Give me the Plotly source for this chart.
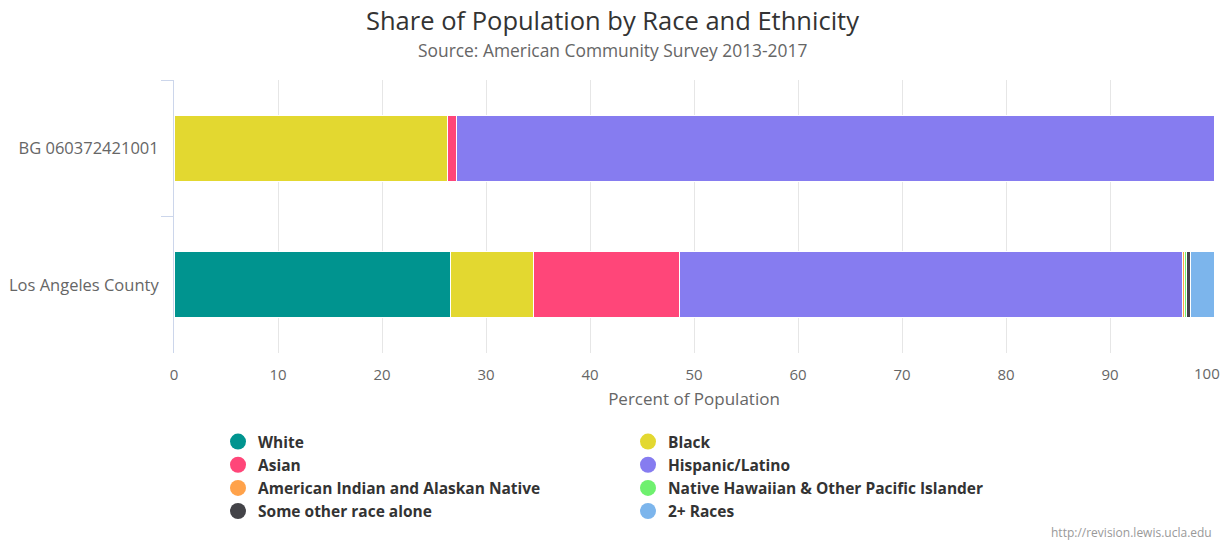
import plotly.graph_objects as go

categories = ["BG 060372421001", "Los Angeles County"]
series_names = ["White", "Black", "Asian", "Hispanic/Latino",
                "American Indian and Alaskan Native",
                "Native Hawaiian & Other Pacific Islander",
                "Some other race alone", "2+ Races"]
values = {
    "White": [0.0, 26.6],
    "Black": [26.3, 8.0],
    "Asian": [0.9, 14.0],
    "Hispanic/Latino": [72.8, 48.4],
    "American Indian and Alaskan Native": [0.0, 0.2],
    "Native Hawaiian & Other Pacific Islander": [0.0, 0.2],
    "Some other race alone": [0.0, 0.3],
    "2+ Races": [0.0, 2.3],
}
colors = ["#00948f", "#e3d830", "#ff4679", "#867cf0",
          "#ffa24a", "#6ef06e", "#434348", "#7cb5ec"]
x_ticks = list(range(0, 101, 10))
title_text = "Share of Population by Race and Ethnicity"
subtitle_text = "Source: American Community Survey 2013-2017"
credits_text = "http://revision.lewis.ucla.edu"

FONT = "Open Sans"
W, H = 1224, 541
L, R, T, B = 174, 10, 80, 188
PH = H - T - B
PW = W - L - R


def py(pixel_y):
    return (H - B - pixel_y) / PH


def px(pixel_x):
    return (pixel_x - L) / PW


fig = go.Figure()
for name, col in zip(series_names, colors):
    fig.add_trace(go.Bar(
        y=categories, x=values[name], orientation="h", name=name,
        marker=dict(color=col, line=dict(color="white", width=1)),
        showlegend=False, legendgroup=name, hoverinfo="skip"))
# legend entries (circle symbols)
for name, col in zip(series_names, colors):
    fig.add_trace(go.Scatter(
        x=[None], y=[None], mode="markers", name=name, legendgroup=name,
        marker=dict(color=col, size=16, symbol="circle")))

tick_text = [str(v) for v in x_ticks[:-1]] + [""]

fig.update_layout(
    width=W, height=H,
    margin=dict(l=L, r=R, t=T, b=B, autoexpand=False),
    barmode="stack", bargap=0.52,
    plot_bgcolor="white", paper_bgcolor="white",
    font=dict(family=FONT, color="#666666", size=15),
    xaxis=dict(range=[0, 100], tickvals=x_ticks, ticktext=tick_text,
               showgrid=True, gridcolor="#e6e6e6", gridwidth=1,
               zeroline=False, showline=False, ticks="outside", ticklen=8,
               tickcolor="rgba(0,0,0,0)",
               tickfont=dict(size=15, color="#666666"),
               title=dict(text="Percent of Population",
                          font=dict(size=17, color="#666666"), standoff=10)),
    yaxis=dict(categoryorder="array", categoryarray=categories,
               autorange="reversed", showline=True, linecolor="#ccd6eb",
               linewidth=1, ticks="outside", tickson="boundaries",
               ticklen=12, tickcolor="#ccd6eb", showgrid=False,
               ticklabelstandoff=11,
               tickfont=dict(size=16.5, color="#666666")),
    legend=dict(orientation="h", xref="container", yref="container",
                x=218 / W, y=1 - 425 / H, xanchor="left", yanchor="top",
                entrywidth=365, entrywidthmode="pixels", tracegroupgap=0,
                font=dict(size=15.5, color="#333333", family=FONT,
                          weight="bold"),
                itemclick=False, itemdoubleclick=False),
    hovermode=False,
)
fig.add_annotation(text=title_text, xref="paper", yref="paper",
                   x=px(612), y=py(20), showarrow=False,
                   xanchor="center", yanchor="middle",
                   font=dict(size=25.5, color="#333333", family=FONT))
fig.add_annotation(text=subtitle_text, xref="paper", yref="paper",
                   x=px(612), y=py(50), showarrow=False,
                   xanchor="center", yanchor="middle",
                   font=dict(size=17.4, color="#666666", family=FONT))
# last x tick label, justified inside the chart like the original
fig.add_annotation(text=str(x_ticks[-1]), xref="x", yref="paper",
                   x=x_ticks[-1], y=py(373), showarrow=False,
                   xanchor="right", yanchor="middle", xshift=8,
                   font=dict(size=15, color="#666666", family=FONT))
fig.add_annotation(text=credits_text, xref="paper", yref="paper",
                   x=1, y=py(532), showarrow=False,
                   xanchor="right", yanchor="middle",
                   font=dict(size=12, color="#999999", family=FONT))
fig.write_html("out.html",
               config={"displayModeBar": False, "staticPlot": True},
               post_script="document.body.style.margin='0';")
